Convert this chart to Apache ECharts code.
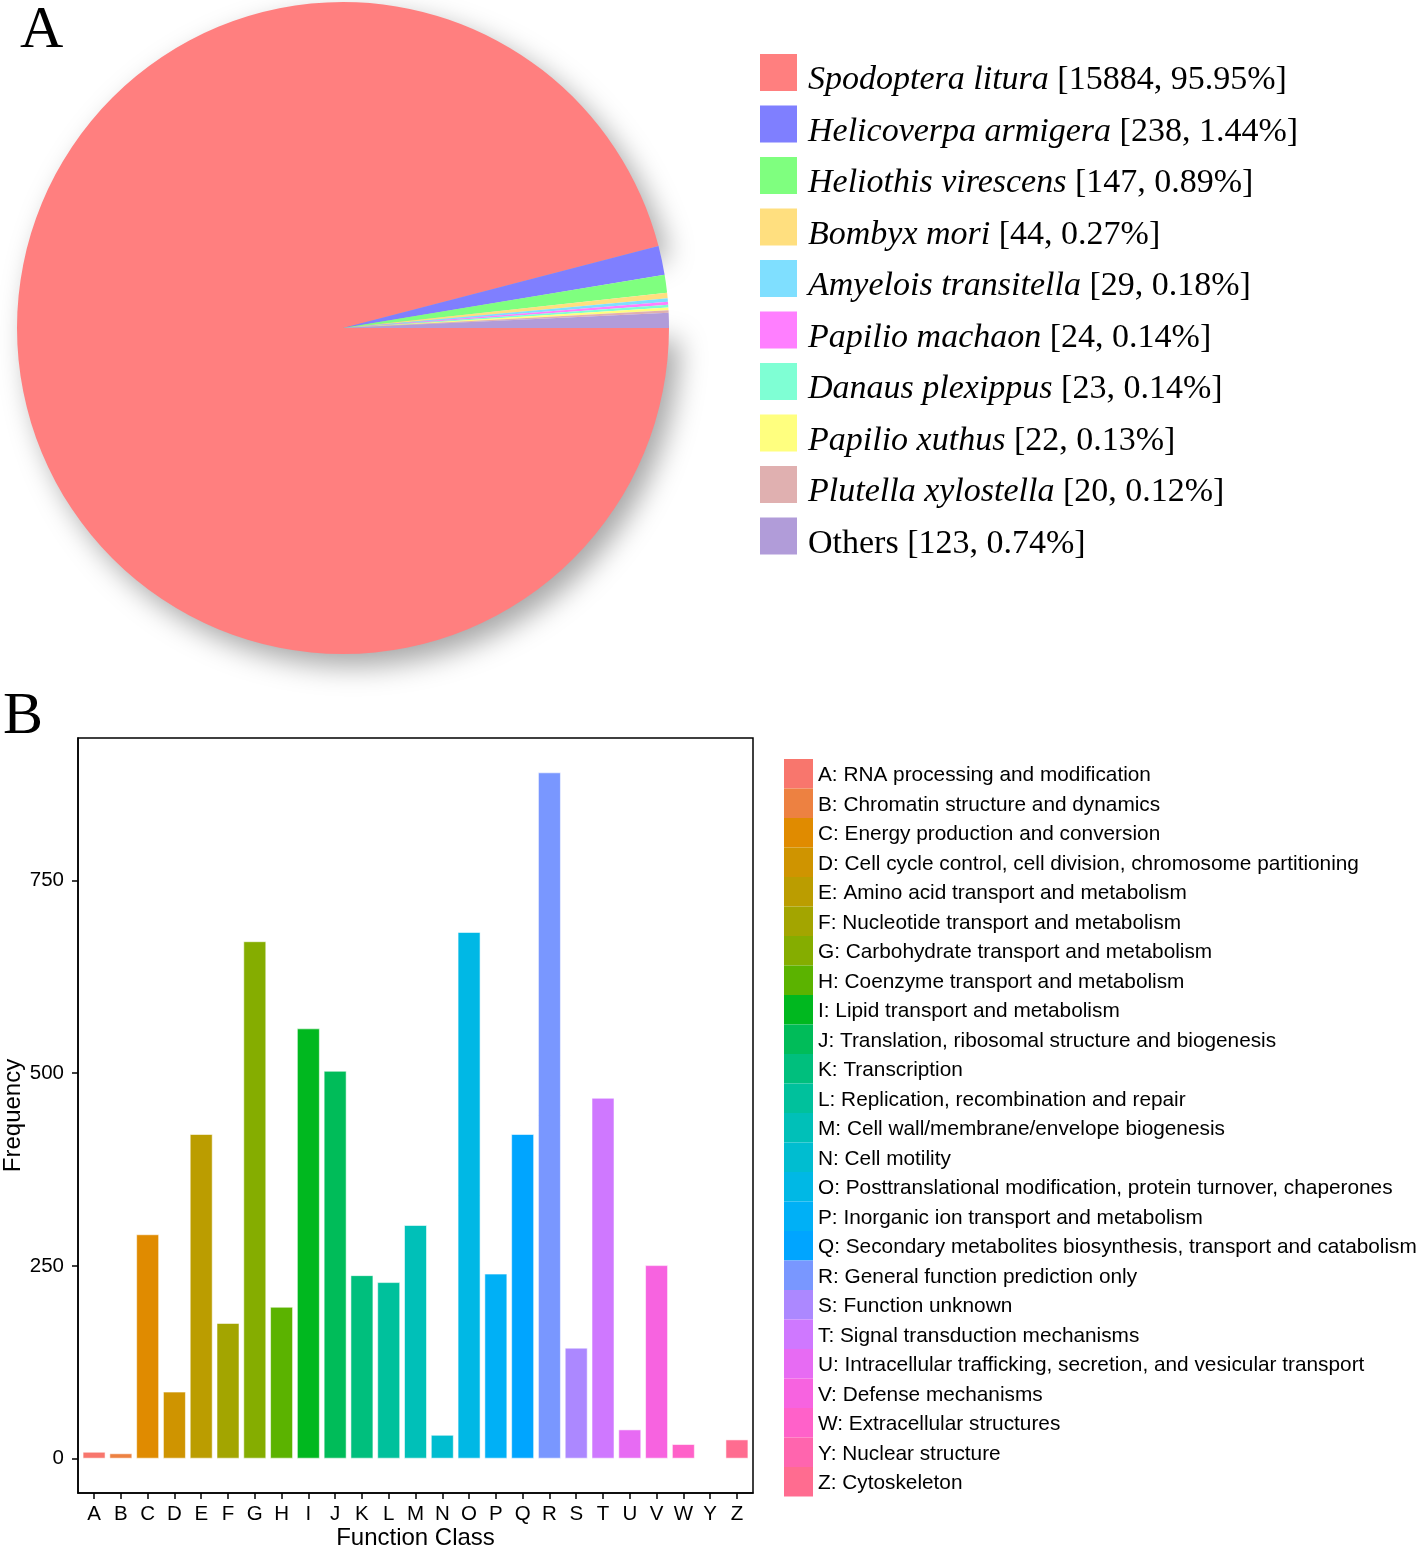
<!DOCTYPE html>
<html>
<head>
<meta charset="utf-8">
<script src="https://cdn.jsdelivr.net/npm/echarts@6/dist/echarts.min.js"></script>
<style>
html,body{margin:0;padding:0;background:#fff;}
#c{width:1418px;height:1551px;}
</style>
</head>
<body>
<div id="c"></div>
<script>
// ---- Panel A data ----
const pieNames = ['Spodoptera litura', 'Helicoverpa armigera', 'Heliothis virescens', 'Bombyx mori',
  'Amyelois transitella', 'Papilio machaon', 'Danaus plexippus', 'Papilio xuthus', 'Plutella xylostella', 'Others'];
const pieCounts = [15884, 238, 147, 44, 29, 24, 23, 22, 20, 123];
const piePercents = ['95.95', '1.44', '0.89', '0.27', '0.18', '0.14', '0.14', '0.13', '0.12', '0.74'];
const pieColors = ['#FF7F7F', '#7F7FFF', '#7FFF7F', '#FFDF7F', '#7FDFFF', '#FF7FFF', '#7FFFD4', '#FFFF7F', '#E0B0B0', '#B19CD9'];

// ---- Panel B data ----
const classLetters = ['A','B','C','D','E','F','G','H','I','J','K','L','M','N','O','P','Q','R','S','T','U','V','W','Y','Z'];
const classNames = [
  'RNA processing and modification',
  'Chromatin structure and dynamics',
  'Energy production and conversion',
  'Cell cycle control, cell division, chromosome partitioning',
  'Amino acid transport and metabolism',
  'Nucleotide transport and metabolism',
  'Carbohydrate transport and metabolism',
  'Coenzyme transport and metabolism',
  'Lipid transport and metabolism',
  'Translation, ribosomal structure and biogenesis',
  'Transcription',
  'Replication, recombination and repair',
  'Cell wall/membrane/envelope biogenesis',
  'Cell motility',
  'Posttranslational modification, protein turnover, chaperones',
  'Inorganic ion transport and metabolism',
  'Secondary metabolites biosynthesis, transport and catabolism',
  'General function prediction only',
  'Function unknown',
  'Signal transduction mechanisms',
  'Intracellular trafficking, secretion, and vesicular transport',
  'Defense mechanisms',
  'Extracellular structures',
  'Nuclear structure',
  'Cytoskeleton'
];
const classCounts = [9, 7, 291, 87, 421, 176, 671, 197, 558, 503, 238, 229, 303, 31, 683, 240, 421, 890, 144, 468, 38, 251, 19, 0, 25];
const yTicks = [0, 250, 500, 750];

// ggplot-style hue palette (HCL, l=65, c=100) for styling
function hcl2hex(h, c, l) {
  const hr = h * Math.PI / 180;
  const U = c * Math.cos(hr), V = c * Math.sin(hr);
  const Xn = 95.047, Yn = 100, Zn = 108.883;
  const den = Xn + 15 * Yn + 3 * Zn;
  const un = 4 * Xn / den, vn = 9 * Yn / den;
  const Y = l > 8 ? Yn * Math.pow((l + 16) / 116, 3) : Yn * l / 903.3;
  const up = U / (13 * l) + un, vp = V / (13 * l) + vn;
  const X = Y * 9 * up / (4 * vp);
  const Z = Y * (12 - 3 * up - 20 * vp) / (4 * vp);
  const x = X / 100, y = Y / 100, z = Z / 100;
  let r = 3.2404542 * x - 1.5371385 * y - 0.4985314 * z;
  let g = -0.9692660 * x + 1.8760108 * y + 0.0415560 * z;
  let b = 0.0556434 * x - 0.2040259 * y + 1.0572252 * z;
  const gam = v => v <= 0.0031308 ? 12.92 * v : 1.055 * Math.pow(v, 1 / 2.4) - 0.055;
  const to = v => { v = Math.max(0, Math.min(1, gam(v))); const s = Math.round(v * 255).toString(16); return s.length < 2 ? '0' + s : s; };
  return '#' + to(r) + to(g) + to(b);
}
const nCls = classLetters.length;
const barColors = classLetters.map((_, i) => hcl2hex(15 + 360 * i / nCls, 100, 65));

const legendLabels = classLetters.map((l, i) => l + ': ' + classNames[i]);

const barSeries = classLetters.map((l, i) => ({
  type: 'bar',
  name: legendLabels[i],
  xAxisIndex: 0,
  yAxisIndex: 0,
  data: [[i, classCounts[i]]],
  barWidth: 23,
  barGap: '-100%',
  itemStyle: { color: barColors[i], borderColor: 'rgba(255,255,255,0.55)', borderWidth: 1 },
  emphasis: { disabled: true },
  silent: true
}));

const chart = echarts.init(document.getElementById('c'), null, { renderer: 'canvas' });

const serif = 'Liberation Serif';
const sans = 'Liberation Sans';
const option = {
  animation: false,
  backgroundColor: '#fff',
  title: [
    { text: 'A', left: 20, top: 1, padding: 0, textStyle: { fontFamily: serif, fontSize: 60, fontWeight: 'normal', color: '#000' } },
    { text: 'B', left: 3, top: 687, padding: 0, textStyle: { fontFamily: serif, fontSize: 60, fontWeight: 'normal', color: '#000' } }
  ],
  legend: [
    {
      data: pieNames.map((n, i) => ({ name: n, icon: 'rect', itemStyle: { color: pieColors[i] } })),
      orient: 'vertical',
      left: 760,
      top: 54,
      padding: 0,
      itemWidth: 37,
      itemHeight: 37,
      itemGap: 8,
      selectedMode: false,
      formatter: function (name) {
        const i = pieNames.indexOf(name);
        const tail = '[' + pieCounts[i] + ', ' + piePercents[i] + '%]';
        if (name === 'Others') return '{s| }{n|' + name + ' ' + tail + '}';
        return '{s| }{i|' + name + '}{n| ' + tail + '}';
      },
      textStyle: {
        fontFamily: serif, fontSize: 34, color: '#000',
        rich: {
          s: { width: 6, lineHeight: 50, fontSize: 34, fontFamily: serif },
          i: { fontFamily: serif, fontSize: 34, fontStyle: 'italic', color: '#000', lineHeight: 30, verticalAlign: 'bottom' },
          n: { fontFamily: serif, fontSize: 34, color: '#000', lineHeight: 30, verticalAlign: 'bottom' }
        }
      }
    },
    {
      data: legendLabels.map((n, i) => ({ name: n, icon: 'rect', itemStyle: { color: barColors[i], borderWidth: 0 } })),
      orient: 'vertical',
      left: 784,
      top: 759,
      padding: 0,
      itemWidth: 29,
      itemHeight: 29.5,
      itemGap: 0,
      selectedMode: false,
      formatter: name => '{t|' + name + '}{s| }',
      textStyle: {
        fontFamily: sans, fontSize: 20.8, color: '#000',
        rich: {
          t: { fontFamily: sans, fontSize: 20.8, color: '#000', lineHeight: 18, verticalAlign: 'bottom' },
          s: { width: 1, lineHeight: 25, fontSize: 20.8, fontFamily: sans }
        }
      }
    }
  ],
  grid: {
    left: 77, top: 738, width: 676, height: 756,
    show: true, borderColor: '#000', borderWidth: 1.5, backgroundColor: 'transparent',
    containLabel: false
  },
  xAxis: {
    type: 'value',
    gridIndex: 0,
    min: -0.6,
    max: nCls - 0.4,
    name: 'Function Class',
    nameLocation: 'middle',
    nameGap: 33,
    nameTextStyle: { fontFamily: sans, fontSize: 24, color: '#000' },
    axisLine: { show: true, onZero: false, lineStyle: { color: '#000', width: 1.5 } },
    axisTick: { show: true, length: 6, lineStyle: { color: '#000', width: 1.5 }, customValues: classLetters.map((_, i) => i) },
    axisLabel: { margin: 11, fontFamily: sans, fontSize: 20.5, color: '#000',
      customValues: classLetters.map((_, i) => i), formatter: v => classLetters[Math.round(v)] },
    splitLine: { show: false }
  },
  yAxis: {
    type: 'value',
    gridIndex: 0,
    min: -44.5,
    max: 934.5,
    name: 'Frequency',
    nameLocation: 'middle',
    nameGap: 53,
    nameRotate: 90,
    nameTextStyle: { fontFamily: sans, fontSize: 24, color: '#000' },
    axisLine: { show: true, onZero: false, lineStyle: { color: '#000', width: 1.5 } },
    axisTick: { show: true, length: 6, lineStyle: { color: '#000', width: 1.5 }, customValues: yTicks },
    axisLabel: { margin: 14, fontFamily: sans, fontSize: 20.5, color: '#000', customValues: yTicks },
    splitLine: { show: false }
  },
  series: [
    {
      type: 'pie',
      center: [343, 328],
      radius: [0, 326],
      startAngle: 0,
      clockwise: true,
      silent: true,
      label: { show: false },
      labelLine: { show: false },
      emphasis: { disabled: true },
      data: pieNames.map((n, i) => ({
        name: n,
        value: pieCounts[i],
        itemStyle: i === 0
          ? { color: pieColors[i], shadowBlur: 28, shadowOffsetX: 10, shadowOffsetY: 12, shadowColor: 'rgba(0,0,0,0.35)' }
          : { color: pieColors[i] }
      }))
    }
  ].concat(barSeries)
};
chart.setOption(option);
</script>
</body>
</html>
